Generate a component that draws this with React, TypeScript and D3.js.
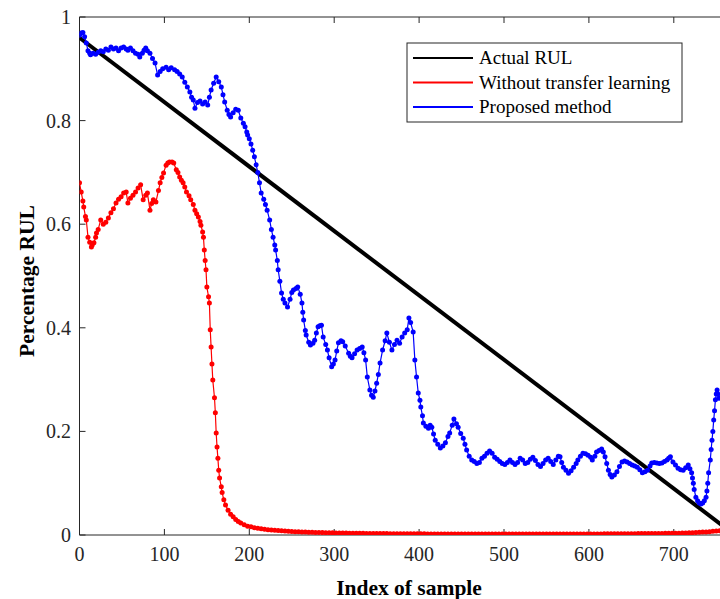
import React from "react";
import * as d3 from "d3";

const width = 720;
const height = 599;
const margin = { left: 79.5, top: 17, bottom: 535 };

const xTicks = [0, 100, 200, 300, 400, 500, 600, 700];
const yTicks = [0, 0.2, 0.4, 0.6, 0.8, 1];

const actualRul: [number, number][] = [
  [0, 0.96],
  [772, 0],
];

const withoutTransferHead: [number, number][] = [
  [0, 0.68], [2, 0.662], [4, 0.645], [5, 0.633], [7, 0.615], [8, 0.608], [10, 0.575], [12, 0.565],
  [14, 0.556], [15, 0.56], [17, 0.564], [19, 0.575], [20, 0.583], [22, 0.59], [25, 0.608], [28, 0.6],
  [31, 0.604], [34, 0.612], [37, 0.622], [40, 0.63], [43, 0.641], [46, 0.648], [49, 0.653], [52, 0.66],
  [55, 0.662], [57, 0.641], [60, 0.65], [63, 0.656], [66, 0.662], [69, 0.67], [72, 0.676], [75, 0.647],
  [78, 0.656], [80, 0.66], [83, 0.627], [85, 0.64], [87, 0.647], [90, 0.643], [93, 0.665], [95, 0.68],
  [97, 0.69], [99, 0.699], [102, 0.714], [104, 0.718], [106, 0.72], [109, 0.72], [111, 0.718], [114, 0.705],
  [116, 0.7], [118, 0.691], [120, 0.685], [122, 0.68], [124, 0.672], [126, 0.662], [129, 0.655], [131, 0.647],
  [134, 0.638], [136, 0.627], [138, 0.62], [140, 0.614], [142, 0.605], [143, 0.598], [145, 0.585], [146, 0.575],
  [147, 0.55], [148, 0.53], [149, 0.512], [150, 0.479], [152, 0.46], [153, 0.448], [154, 0.396], [155, 0.363],
  [156, 0.33], [157, 0.299], [159, 0.265], [160, 0.236], [161, 0.197], [162, 0.17], [163, 0.148], [164, 0.125],
  [165, 0.11], [167, 0.093], [168, 0.082], [170, 0.068], [172, 0.058], [175, 0.048], [178, 0.04], [181, 0.035],
  [184, 0.03], [187, 0.026], [190, 0.023], [194, 0.02], [198, 0.017],
];

// near-zero tail of the red series, one value every 4 samples from index 202
const tailStart = 202;
const tailStep = 4;
const withoutTransferTail = [
  0.016, 0.014, 0.013, 0.012, 0.011, 0.01, 0.0095, 0.009, 0.0085, 0.008, 0.0075, 0.007, 0.0068,
  0.0065, 0.0062, 0.006, 0.0058, 0.0055, 0.0052, 0.005, 0.0048, 0.0046, 0.0045, 0.0044, 0.0042,
  0.004, 0.004, 0.0038, 0.0037, 0.0036, 0.0035, 0.0034, 0.0033, 0.0032, 0.0031, 0.003, 0.003,
  0.0029, 0.0028, 0.0028, 0.0027, 0.0026, 0.0026, 0.0025, 0.0025, 0.0024, 0.0024, 0.0023, 0.0023,
  0.0022, 0.0022, 0.0022, 0.0021, 0.0021, 0.002, 0.002, 0.002, 0.002, 0.002, 0.002, 0.002, 0.002,
  0.002, 0.002, 0.002, 0.002, 0.002, 0.002, 0.002, 0.002, 0.002, 0.002, 0.002, 0.002, 0.002,
  0.002, 0.002, 0.002, 0.002, 0.002, 0.002, 0.002, 0.002, 0.002, 0.002, 0.002, 0.002, 0.002,
  0.002, 0.002, 0.002, 0.002, 0.002, 0.002, 0.002, 0.002, 0.002, 0.002, 0.002, 0.002, 0.002,
  0.002, 0.0021, 0.0021, 0.0022, 0.0022, 0.0023, 0.0023, 0.0024, 0.0024, 0.0025, 0.0025, 0.0026,
  0.0026, 0.0027, 0.0027, 0.0028, 0.0028, 0.0029, 0.003, 0.003, 0.0031, 0.0032, 0.0033, 0.0034,
  0.0035, 0.0036, 0.0038, 0.004, 0.0042, 0.0045, 0.0048, 0.0052, 0.0056, 0.006, 0.0065, 0.007,
  0.0075, 0.008, 0.0085, 0.009,
];

const proposed: [number, number][] = [
  [0, 0.965], [2, 0.969], [4, 0.97], [6, 0.962], [8, 0.95], [10, 0.935], [12, 0.93], [13, 0.927],
  [16, 0.93], [19, 0.928], [22, 0.932], [25, 0.935], [28, 0.933], [31, 0.938], [34, 0.936], [37, 0.942],
  [40, 0.938], [43, 0.94], [46, 0.935], [49, 0.94], [52, 0.942], [55, 0.938], [57, 0.936], [60, 0.94],
  [63, 0.935], [66, 0.93], [69, 0.928], [71, 0.923], [74, 0.93], [76, 0.936], [78, 0.94], [80, 0.935],
  [83, 0.93], [86, 0.92], [89, 0.911], [92, 0.888], [95, 0.895], [98, 0.9], [102, 0.903], [105, 0.898],
  [108, 0.902], [112, 0.898], [115, 0.895], [118, 0.89], [121, 0.884], [124, 0.874], [127, 0.865], [130, 0.855],
  [132, 0.845], [134, 0.84], [136, 0.824], [139, 0.835], [142, 0.838], [145, 0.832], [148, 0.836], [151, 0.83],
  [153, 0.845], [155, 0.859], [158, 0.872], [161, 0.884], [164, 0.875], [167, 0.865], [169, 0.85], [171, 0.836],
  [174, 0.82], [176, 0.812], [178, 0.807], [181, 0.815], [184, 0.822], [187, 0.82], [190, 0.805], [193, 0.795],
  [195, 0.788], [197, 0.778], [198, 0.772], [200, 0.765], [202, 0.755], [204, 0.743], [206, 0.73], [208, 0.715],
  [210, 0.7], [212, 0.68], [214, 0.66], [217, 0.648], [219, 0.638], [221, 0.627], [224, 0.608], [226, 0.59],
  [228, 0.575], [230, 0.56], [231, 0.55], [233, 0.53], [234, 0.512], [236, 0.49], [238, 0.467], [240, 0.455],
  [242, 0.448], [245, 0.44], [248, 0.455], [250, 0.468], [252, 0.473], [255, 0.476], [257, 0.479], [260, 0.465],
  [262, 0.448], [263, 0.43], [264, 0.415], [266, 0.395], [267, 0.386], [270, 0.372], [272, 0.367], [275, 0.37],
  [277, 0.376], [279, 0.39], [281, 0.402], [283, 0.404], [285, 0.405], [287, 0.382], [290, 0.368], [292, 0.357],
  [294, 0.342], [297, 0.325], [299, 0.33], [301, 0.338], [303, 0.355], [305, 0.371], [308, 0.375], [310, 0.373],
  [313, 0.365], [317, 0.351], [319, 0.345], [321, 0.342], [324, 0.35], [327, 0.357], [330, 0.36], [333, 0.363],
  [335, 0.352], [337, 0.338], [339, 0.305], [342, 0.28], [344, 0.27], [346, 0.266], [348, 0.278], [350, 0.293],
  [352, 0.31], [354, 0.332], [357, 0.357], [360, 0.375], [362, 0.39], [365, 0.372], [368, 0.357], [371, 0.368],
  [374, 0.376], [377, 0.37], [380, 0.382], [383, 0.39], [386, 0.396], [388, 0.419], [390, 0.41], [393, 0.392],
  [395, 0.338], [397, 0.305], [399, 0.274], [401, 0.26], [402, 0.247], [404, 0.23], [405, 0.216], [408, 0.21],
  [411, 0.206], [413, 0.212], [415, 0.208], [417, 0.195], [419, 0.183], [422, 0.175], [425, 0.168], [428, 0.172],
  [431, 0.178], [434, 0.19], [436, 0.197], [439, 0.212], [441, 0.224], [444, 0.215], [446, 0.208], [449, 0.196],
  [452, 0.187], [454, 0.175], [456, 0.164], [459, 0.152], [462, 0.145], [465, 0.142], [468, 0.138], [471, 0.14],
  [474, 0.148], [477, 0.152], [480, 0.158], [483, 0.162], [486, 0.158], [489, 0.15], [492, 0.146], [495, 0.142],
  [498, 0.138], [501, 0.136], [504, 0.14], [507, 0.145], [510, 0.14], [513, 0.136], [516, 0.14], [519, 0.148],
  [522, 0.145], [525, 0.138], [528, 0.14], [531, 0.146], [534, 0.15], [537, 0.144], [540, 0.136], [543, 0.132],
  [546, 0.138], [549, 0.145], [552, 0.148], [555, 0.142], [558, 0.136], [561, 0.145], [564, 0.152], [566, 0.151],
  [568, 0.14], [570, 0.131], [573, 0.125], [576, 0.119], [579, 0.124], [582, 0.131], [585, 0.138], [587, 0.145],
  [590, 0.152], [593, 0.158], [596, 0.157], [599, 0.154], [602, 0.15], [604, 0.145], [607, 0.152], [609, 0.16],
  [612, 0.163], [615, 0.166], [617, 0.16], [619, 0.151], [621, 0.138], [623, 0.125], [625, 0.117], [627, 0.112],
  [630, 0.116], [633, 0.122], [636, 0.132], [639, 0.141], [642, 0.143], [645, 0.141], [648, 0.138], [651, 0.135],
  [654, 0.133], [657, 0.131], [660, 0.126], [663, 0.12], [666, 0.122], [669, 0.125], [672, 0.133], [674, 0.139],
  [677, 0.14], [680, 0.139], [683, 0.138], [686, 0.139], [689, 0.142], [692, 0.145], [694, 0.148], [696, 0.151],
  [699, 0.141], [702, 0.135], [705, 0.129], [708, 0.126], [711, 0.125], [714, 0.13], [717, 0.135], [719, 0.128],
  [721, 0.12], [722, 0.11], [723, 0.1], [724, 0.088], [726, 0.073], [728, 0.066], [730, 0.062], [732, 0.06],
  [734, 0.062], [736, 0.066], [738, 0.073], [739, 0.085], [740, 0.1], [741, 0.12], [743, 0.145], [744, 0.165],
  [745, 0.183], [746, 0.2], [747, 0.222], [748, 0.24], [749, 0.261], [750, 0.272], [751, 0.28], [752, 0.272],
  [753, 0.264],
];

const legendItems = [
  { label: "Actual RUL", color: "#000000" },
  { label: "Without transfer learning", color: "#ff0000" },
  { label: "Proposed method", color: "#0000ff" },
];

const withoutTransfer: [number, number][] = withoutTransferHead.concat(
  withoutTransferTail.map((v, i) => [tailStart + i * tailStep, v] as [number, number])
);

const x = d3.scaleLinear().domain([0, 800]).range([margin.left, margin.left + 679.2]);
const y = d3.scaleLinear().domain([0, 1]).range([margin.bottom, margin.top]);

const line = d3
  .line<[number, number]>()
  .x((d) => x(d[0]))
  .y((d) => y(d[1]));

const font = "'Liberation Serif', 'Times New Roman', serif";

export default function App() {
  const tickLen = 6;
  return (
    <div style={{ position: "absolute", left: 0, top: 0 }}>
      <svg width={width} height={height} style={{ display: "block", background: "#fff" }}>
        <defs>
          <clipPath id="plot">
            <rect x={margin.left} y={margin.top} width={width - margin.left} height={margin.bottom - margin.top} />
          </clipPath>
        </defs>
        <rect x={0} y={0} width={width} height={height} fill="#fff" />

        {/* axes box */}
        <line x1={margin.left} x2={width} y1={margin.top} y2={margin.top} stroke="#262626" strokeWidth={1} />
        <line x1={margin.left} x2={width} y1={margin.bottom} y2={margin.bottom} stroke="#262626" strokeWidth={1} />
        <line x1={margin.left} x2={margin.left} y1={margin.top} y2={margin.bottom} stroke="#262626" strokeWidth={1} />

        {xTicks.map((t) => (
          <g key={"x" + t}>
            <line x1={x(t)} x2={x(t)} y1={margin.bottom} y2={margin.bottom - tickLen} stroke="#262626" />
            <line x1={x(t)} x2={x(t)} y1={margin.top} y2={margin.top + tickLen} stroke="#262626" />
            <text x={x(t)} y={561} textAnchor="middle" fontFamily={font} fontSize={20} fill="#262626">
              {t}
            </text>
          </g>
        ))}
        {yTicks.map((t) => (
          <g key={"y" + t}>
            <line x1={margin.left} x2={margin.left + tickLen} y1={y(t)} y2={y(t)} stroke="#262626" />
            <text x={71} y={y(t) + 7} textAnchor="end" fontFamily={font} fontSize={20} fill="#262626">
              {t}
            </text>
          </g>
        ))}

        <text x={409} y={595} textAnchor="middle" fontFamily={font} fontSize={21.5} fontWeight="bold">
          Index of sample
        </text>
        <text
          transform={`translate(34, 281) rotate(-90)`}
          textAnchor="middle"
          fontFamily={font}
          fontSize={21.5}
          fontWeight="bold"
        >
          Percentage RUL
        </text>

        <g clipPath="url(#plot)">
          <path d={line(actualRul) || ""} fill="none" stroke="#000" strokeWidth={4} />
          <path d={line(withoutTransfer) || ""} fill="none" stroke="#ff0000" strokeWidth={1.2} />
          {withoutTransfer.map((d, i) => (
            <circle key={"r" + i} cx={x(d[0])} cy={y(d[1])} r={2.5} fill="#ff0000" />
          ))}
          <path d={line(proposed) || ""} fill="none" stroke="#0000ff" strokeWidth={1.2} />
          {proposed.map((d, i) => (
            <circle key={"b" + i} cx={x(d[0])} cy={y(d[1])} r={2.5} fill="#0000ff" />
          ))}
        </g>

        {/* legend */}
        <g>
          <rect x={407} y={43} width={275} height={79} fill="#fff" stroke="#262626" strokeWidth={1} />
          {legendItems.map((item, i) => {
            const ly = 58 + i * 24.5;
            return (
              <g key={item.label}>
                <line x1={413} x2={473} y1={ly} y2={ly} stroke={item.color} strokeWidth={2} />
                <text x={479} y={ly + 6} fontFamily={font} fontSize={19} fill="#000">
                  {item.label}
                </text>
              </g>
            );
          })}
        </g>
      </svg>
    </div>
  );
}
